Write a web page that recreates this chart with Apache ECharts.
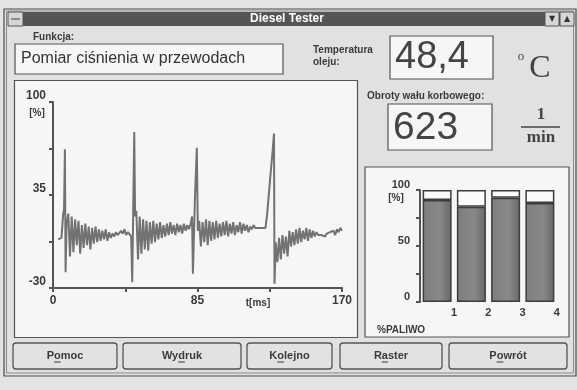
<!DOCTYPE html>
<html><head><meta charset="utf-8">
<script src="https://cdn.jsdelivr.net/npm/echarts@6/dist/echarts.min.js"></script>
<style>html,body{margin:0;padding:0;background:#e3e3e3}#c{width:577px;height:390px}</style>
</head><body><div id="c"></div>
<script>
// ---- data ----
const timeMs = [3,4,5,6,6.5,7,7.4,8,9,10,11,12,13,14,15,16,17,18,19,20,21,22,23,24,25,26,27,28,29,30,31,32,33,34,35,36,37,38,39,40,41,42,43,44,45,46,46.6,47.8,48.3,49,50,51,52,53,54,55,56,57,58,59,60,61,62,63,64,65,66,67,68,69,70,71,72,73,74,75,76,77,78,79,80,81,81.8,82.3,83.5,84.6,85.2,86,87,88,89,90,91,92,93,94,95,96,97,98,99,100,101,102,103,104,105,106,107,108,109,110,111,112,113,114,115,116,117,118,119,120,121,122,123,124,125,126,127,128,129,130,130.3,131,132,133,134,135,136,137,138,139,140,141,142,143,144,145,146,147,148,149,150,151,152,153,154,155,156,157,158,159,160,161,162,163,164,165,166,167,168,169,170];
const pressurePct = [4,3,5,22,25,67,-19,15,22,-8,20,-5,18,0,17,-6,14,-2,15,0,13,-3,12,1,13,2,11,3,10,4,11,3,9,5,8,6,9,7,6,10,8,11,7,9,8,6,-26,79,20,24,-10,20,-6,18,-3,17,-4,16,1,17,2,15,4,16,5,14,6,15,7,16,8,14,7,15,9,14,8,15,10,14,11,15,20,-20,33,68,10,17,-1,16,2,18,0,17,3,16,4,17,5,15,6,16,7,17,6,15,8,16,7,14,9,16,8,15,10,14,9,13,11,14,12,13,12,13,12,11,12,22,36,50,63,78,-27,2,-12,5,-10,7,-6,6,-8,10,-1,9,0,11,1,12,2,10,4,12,3,11,5,10,6,9,7,8,7,8,6,8,7,9,8,10,7,11,9,12,10];
const yTickLabels = ['100','35','-30'];
const xTickLabels = ['0','85','170'];
const cylinders = ['1','2','3','4'];
const fuelPct = [91,85,93,88.5];
const barTickLabels = ['100','50','0'];
const temperature = '48,4';
const rpm = '623';
const functionName = 'Pomiar ciśnienia w przewodach';
const buttons = ['Pomoc','Wydruk','Kolejno','Raster','Powrót'];
const buttonHotkeyIndex = [1,2,1,1,1];

// ---- layout ----
const F = "'Liberation Sans', Arial, sans-serif";
const SERIF = "'Liberation Serif', 'Times New Roman', serif";
const ink = '#3a3a3a';
const btnBoxes = [[13,117],[123,241],[247,332],[340,442],[449,567]];

const g = [];
function rect(x,y,w,h,fill,stroke,lw,z,r){g.push({type:'rect',z:z||0,shape:{x:x,y:y,width:w,height:h,r:r||0},style:{fill:fill||'none',stroke:stroke||null,lineWidth:lw||1}});}
function text(x,y,t,font,fill,align,z){g.push({type:'text',z:z||10,x:x,y:y,style:{text:t,font:font,fill:fill||ink,textAlign:align||'left',textVerticalAlign:'middle'}});}
function line(x1,y1,x2,y2,stroke,lw,z){g.push({type:'line',z:z||5,shape:{x1:x1,y1:y1,x2:x2,y2:y2},style:{stroke:stroke,lineWidth:lw||1}});}

// window
rect(4,9,572,367,'#e1e1e1','#4a4a4a',1.2,0);
rect(6.5,11,567,362,null,'#8a8a8a',1,0);
rect(8,12,566,14,'#555555',null,1,1);
rect(8,12,15,14,'#d6d6d6','#555',1,2);
rect(11,18,9,2,'#8a8a8a',null,1,3);
rect(545,12,14,14,'#d6d6d6','#555',1,2);
rect(560,12,14,14,'#d6d6d6','#555',1,2);
text(552,19,'▼',"8px 'DejaVu Sans'",'#333','center');
text(567,19,'▲',"8px 'DejaVu Sans'",'#333','center');
text(287,19,'Diesel Tester','bold 12px '+F,'#ffffff','center');

// function box
text(33,37,'Funkcja:','bold 10px '+F,ink);
rect(15,44,268,30,'#f6f6f6','#555',1.2,1);
text(21,59,functionName,'16px '+F,'#333');

// temperature
text(313,50,'Temperatura','bold 10px '+F,ink);
text(313,62,'oleju:','bold 10px '+F,ink);
rect(390,36,103,43,'#f6f6f6','#555',1.2,1);
text(395,58,temperature,'38px '+F,'#444');
text(521,57,'o','13px '+SERIF,'#444','center');
text(540,69,'C','32px '+SERIF,'#444','center');

// rpm
text(367,96,'Obroty wału korbowego:','bold 10px '+F,ink);
rect(388,104,104,46,'#f6f6f6','#555',1.2,1);
text(393,128,rpm,'39px '+F,'#444');
text(541,115,'1','bold 17px '+SERIF,'#444','center');
line(521,127,560,127,'#444',1.5,10);
text(541,138,'min','bold 17px '+SERIF,'#444','center');

// panels
rect(14.5,80.5,343,257,'#f6f6f6','#555',1.2,1);
rect(365,167,204,170,'#f6f6f6','#555',1.2,1);
text(37,113,'[%]','bold 10px '+F,ink,'center');
text(258,303,'t[ms]','bold 10px '+F,ink,'center');
text(396,198,'[%]','bold 10px '+F,ink,'center');
text(377,330,'%PALIWO','bold 10px '+F,ink);

// buttons
const btnFont = 'bold 11px '+F;
const mctx = document.createElement('canvas').getContext('2d');
mctx.font = btnFont;
buttons.forEach((b,i)=>{
  const [x1,x2] = btnBoxes[i];
  rect(x1,343,x2-x1,26,'#e2e2e2','#555',1.3,1,3);
  const cx = (x1+x2)/2;
  text(cx,356,b,btnFont,ink,'center');
  const w = mctx.measureText(b).width;
  const k = buttonHotkeyIndex[i];
  const ux = cx - w/2 + mctx.measureText(b.slice(0,k)).width;
  const uw = mctx.measureText(b[k]).width;
  line(ux,362,ux+uw,362,ink,1,11);
});

const axisFont = {fontFamily:'Liberation Sans',fontWeight:'bold',fontSize:12,color:ink};

const option = {
  backgroundColor:'#e3e3e3',
  animation:false,
  graphic:{elements:g},
  grid:[
    {left:53,right:235,top:102,bottom:102,containLabel:false},
    {left:420,right:20,top:190,bottom:88,containLabel:false}
  ],
  xAxis:[
    {gridIndex:0,type:'value',min:0,max:170,interval:42.5,z:20,
     axisLine:{onZero:false,lineStyle:{color:'#555',width:2}},
     axisTick:{show:true,length:4,lineStyle:{color:'#555',width:2}},
     splitLine:{show:false},
     axisLabel:Object.assign({margin:7,formatter:v=>xTickLabels.includes(String(v))?String(v):''},axisFont)},
    {gridIndex:1,type:'category',data:cylinders,boundaryGap:true,z:20,
     axisLine:{show:false,onZero:false},axisTick:{show:false},
     axisLabel:Object.assign({margin:5,padding:[0,0,0,34]},axisFont,{fontSize:11})}
  ],
  yAxis:[
    {gridIndex:0,type:'value',min:-30,max:100,interval:32.5,z:20,
     axisLine:{show:true,onZero:false,lineStyle:{color:'#555',width:2}},
     axisTick:{show:true,length:4,lineStyle:{color:'#555',width:2}},
     splitLine:{show:false},
     axisLabel:Object.assign({margin:7,verticalAlign:'bottom',formatter:v=>yTickLabels.includes(String(v))?String(v):''},axisFont)},
    {gridIndex:1,type:'value',min:0,max:100,interval:25,z:20,
     axisLine:{show:true,lineStyle:{color:'#555',width:2}},
     axisTick:{show:true,length:4,lineStyle:{color:'#555',width:2}},
     splitLine:{show:false},
     axisLabel:Object.assign({margin:10,verticalAlign:'bottom',formatter:v=>barTickLabels.includes(String(v))?String(v):''},axisFont,{fontSize:11})}
  ],
  series:[
    {type:'line',xAxisIndex:0,yAxisIndex:0,showSymbol:false,symbol:'none',
     data:timeMs.map((t,i)=>[t,pressurePct[i]]),
     lineStyle:{color:'#727272',width:2},z:15},
    {type:'bar',xAxisIndex:1,yAxisIndex:1,stack:'fuel',barWidth:29,z:15,
     data:fuelPct,
     itemStyle:{color:{type:'linear',x:0,y:0,x2:1,y2:0,colorStops:[{offset:0,color:'#7e7e7e'},{offset:0.6,color:'#888888'},{offset:1,color:'#686868'}]},borderColor:'#3c3c3c',borderWidth:1.5}},
    {type:'bar',xAxisIndex:1,yAxisIndex:1,stack:'fuel',barWidth:29,z:15,
     data:fuelPct.map(v=>100-v),
     itemStyle:{color:'#fafafa',borderColor:'#3c3c3c',borderWidth:1.5}}
  ]
};
const chart = echarts.init(document.getElementById('c'),null,{renderer:'canvas'});
chart.setOption(option);
</script></body></html>
